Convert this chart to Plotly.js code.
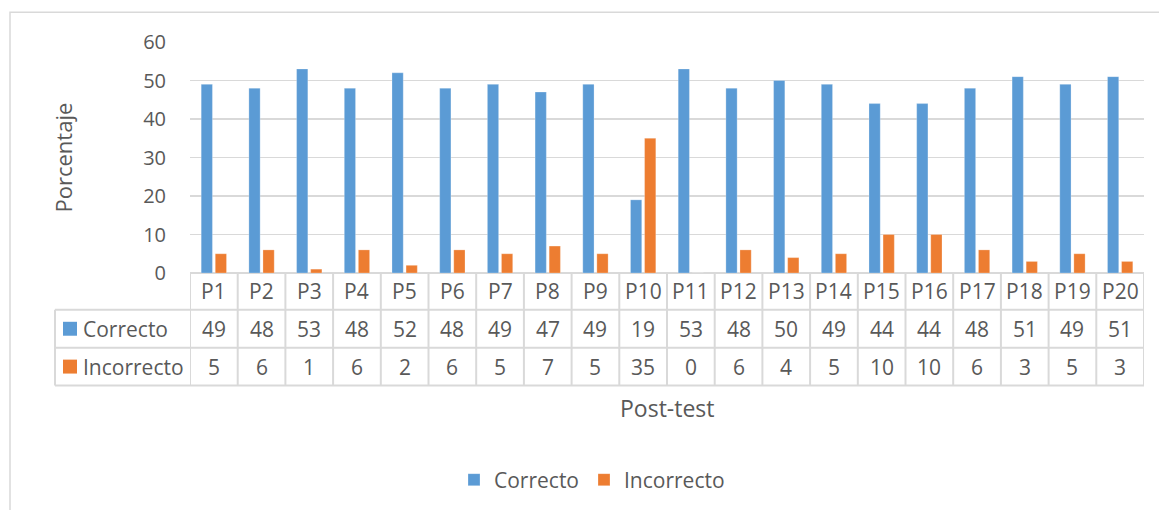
<!DOCTYPE html>
<html>
<head>
<meta charset="utf-8">
<script src="https://cdn.plot.ly/plotly-3.0.1.min.js"></script>
<style>
  html, body { margin: 0; padding: 0; background: #fff; }
  #chart { width: 1159px; height: 510px; }
</style>
</head>
<body>
<div id="chart"></div>
<script>
// ---- data ----
const categories = ["P1","P2","P3","P4","P5","P6","P7","P8","P9","P10","P11","P12","P13","P14","P15","P16","P17","P18","P19","P20"];
const correcto   = [49,48,53,48,52,48,49,47,49,19,53,48,50,49,44,44,48,51,49,51];
const incorrecto = [5,6,1,6,2,6,5,7,5,35,0,6,4,5,10,10,6,3,5,3];
const seriesNames = ["Correcto","Incorrecto"];
const yTitle = "Porcentaje";
const xTitle = "Post-test";

// ---- geometry helpers (pixel -> paper) ----
const L = 190, R = 1144, T = 42, B = 274;
const px = p => (p - L) / (R - L);
const py = p => (B - p) / (B - T);

const BLUE = "#5B9BD5", ORANGE = "#ED7D31";
const TXT = "#595959", GRID = "#D9D9D9";
const FONT = "Open Sans, sans-serif";

const traces = [
  { type: "bar", name: seriesNames[0], x: categories, y: correcto,
    marker: { color: BLUE, line: { color: "rgba(255,255,255,0.5)", width: 0.5 } } },
  { type: "bar", name: seriesNames[1], x: categories, y: incorrecto,
    marker: { color: ORANGE, line: { color: "rgba(255,255,255,0.5)", width: 0.5 } } }
];

// ---- table rows (pixel y bounds) ----
const rowLines = [274, 311, 349, 387];
const rowCenters = [292.5, 330, 368];
const tableLeft = 55;

const shapes = [];
const lineStyle = { color: GRID, width: 2 };
// outer chart border
shapes.push({ type: "rect", xref: "paper", yref: "paper",
  x0: px(10), x1: px(1162), y0: py(513), y1: py(12),
  line: { color: GRID, width: 1.5 }, fillcolor: "rgba(0,0,0,0)", layer: "below" });
// vertical lines of data columns
for (let i = 0; i <= categories.length; i++) {
  shapes.push({ type: "line", xref: "x", yref: "paper",
    x0: i - 0.5, x1: i - 0.5, y0: py(rowLines[0]), y1: py(rowLines[3]), line: lineStyle });
}
// horizontal lines
for (let r = 1; r < rowLines.length; r++) {
  shapes.push({ type: "line", xref: "paper", yref: "paper",
    x0: px(tableLeft), x1: 1, y0: py(rowLines[r]), y1: py(rowLines[r]), line: lineStyle });
}
// left border of legend column
shapes.push({ type: "line", xref: "paper", yref: "paper",
  x0: px(tableLeft), x1: px(tableLeft), y0: py(rowLines[1]), y1: py(rowLines[3]), line: lineStyle });
// legend keys in table
[BLUE, ORANGE].forEach((c, k) => {
  const cy = rowCenters[k + 1];
  shapes.push({ type: "rect", xref: "paper", yref: "paper",
    x0: px(63), x1: px(77), y0: py(cy + 7), y1: py(cy - 7),
    fillcolor: c, line: { width: 0 } });
});

const annotations = [];
const cellFont = { family: FONT, size: 21, color: TXT };
categories.forEach((c, i) => {
  annotations.push({ xref: "x", yref: "paper", x: c, y: py(rowCenters[0]), text: c,
    showarrow: false, font: cellFont, xanchor: "center", yanchor: "middle" });
  annotations.push({ xref: "x", yref: "paper", x: c, y: py(rowCenters[1]), text: String(correcto[i]),
    showarrow: false, font: cellFont, xanchor: "center", yanchor: "middle" });
  annotations.push({ xref: "x", yref: "paper", x: c, y: py(rowCenters[2]), text: String(incorrecto[i]),
    showarrow: false, font: cellFont, xanchor: "center", yanchor: "middle" });
});
seriesNames.forEach((n, k) => {
  annotations.push({ xref: "paper", yref: "paper", x: px(81), y: py(rowCenters[k + 1]), text: n,
    showarrow: false, font: cellFont, xanchor: "left", yanchor: "middle" });
});
// axis titles
annotations.push({ xref: "paper", yref: "paper", x: px(667), y: py(410), text: xTitle,
  showarrow: false, font: { family: FONT, size: 23, color: TXT }, xanchor: "center", yanchor: "middle" });
annotations.push({ xref: "paper", yref: "paper", x: px(62), y: py(158), text: yTitle, textangle: -90,
  showarrow: false, font: { family: FONT, size: 22, color: TXT }, xanchor: "center", yanchor: "middle" });

const layout = {
  width: 1159, height: 510,
  margin: { l: L, r: 1159 - R, t: T, b: 510 - B },
  paper_bgcolor: "#fff", plot_bgcolor: "#fff",
  font: { family: FONT, color: TXT },
  barmode: "group", bargap: 0.41, bargroupgap: 0.2,
  xaxis: { type: "category", range: [-0.5, categories.length - 0.5], showticklabels: false,
    showgrid: false, zeroline: false, showline: false, ticks: "" , fixedrange: true},
  yaxis: { range: [0, 60], dtick: 10, tick0: 0, showgrid: true, gridcolor: GRID, gridwidth: 1.5,
    zeroline: true, zerolinecolor: GRID, zerolinewidth: 2, showline: false, ticks: "",
    tickfont: { family: FONT, size: 20, color: TXT }, ticklabelstandoff: 23, fixedrange: true },
  showlegend: true,
  legend: { orientation: "h", xref: "paper", yref: "paper", x: px(592), y: py(480),
    xanchor: "center", yanchor: "middle", font: { family: FONT, size: 21, color: TXT },
    itemwidth: 30, traceorder: "normal", bgcolor: "rgba(0,0,0,0)" },
  shapes: shapes,
  annotations: annotations
};

Plotly.newPlot("chart", traces, layout, { displayModeBar: false, staticPlot: true });
</script>
</body>
</html>
